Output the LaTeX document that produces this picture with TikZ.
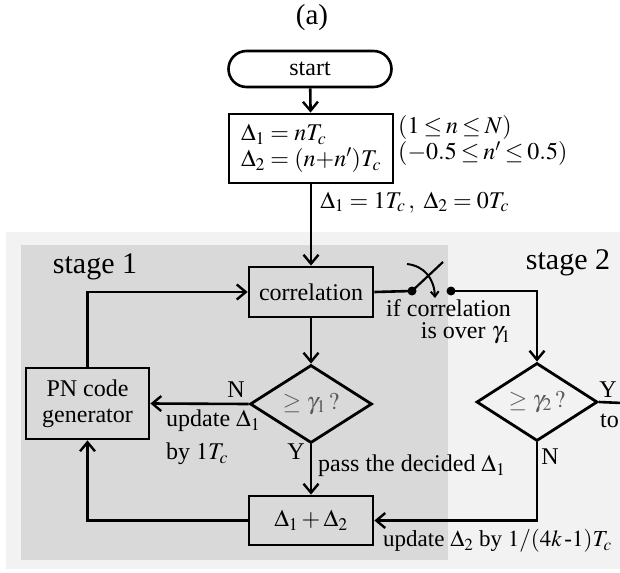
\documentclass[tikz,border=0pt]{standalone}
\usepackage{mathptmx}
\usepackage{fontspec}
\setmainfont{Liberation Serif}
\usetikzlibrary{arrows.meta,shapes.geometric,calc}
\definecolor{bglight}{HTML}{F2F2F2}
\definecolor{bgdark}{HTML}{D9D9D9}
\definecolor{dtext}{HTML}{5A5A5A}
\begin{document}
\begin{tikzpicture}[x=1pt,y=-1pt,
  every node/.style={font=\fontsize{24}{26}\selectfont, inner sep=0pt},
  arr/.style={line width=2.6pt, -{Straight Barb[length=9pt,width=15pt,line width=2.4pt]}},
  box/.style={draw, line width=2.8pt, rectangle, align=center},
  dia/.style={draw, line width=2.8pt, diamond, text=dtext},
  lbl/.style={anchor=west}
]
\useasboundingbox (0,0) rectangle (620,572);
% backgrounds
\fill[bglight] (6,232) rectangle (620,569);
\fill[bgdark] (21,245) rectangle (448,560);

\node[font=\fontsize{29}{30}\selectfont] (title) at (312,18) {(a)};
\node[draw, line width=2.6pt, rounded corners=18pt, fill=white, minimum width=163pt, minimum height=36pt] (start) at (310,69) {start};
\node[box, minimum width=164pt, minimum height=69pt, align=left] (init) at (311,148.5)
  {$\Delta_1=nT_c$\\[0pt]$\Delta_2=(n{+}n')T_c$};
\node[anchor=west, align=left, font=\fontsize{24}{26}\selectfont] (cond) at (398,141)
  {$(1\mkern-1mu\le\mkern-1mu n\mkern-1mu\le\mkern-1mu N)$\\$(-0.5\mkern-1mu\le\mkern-1mu n'\mkern-1mu\le\mkern-1mu 0.5)$};

\node[box, minimum width=124pt, minimum height=50pt] (corr) at (311,292) {correlation};
\node[dia, minimum width=122pt, minimum height=72pt] (d1) at (311,404) {$\ge\gamma_1\,?$};
\node[box, minimum width=123pt, minimum height=71pt, align=center] (pn) at (87.5,403.5) {PN code\\generator};
\node[box, minimum width=124pt, minimum height=49pt] (sum) at (311,520.5) {$\Delta_1+\Delta_2$};
\node[dia, minimum width=121pt, minimum height=70pt] (d2) at (537,402) {$\ge\gamma_2\,?$};

\node[font=\fontsize{30}{32}\selectfont] (s1) at (95,267) {stage 1};
\node[font=\fontsize{30}{32}\selectfont] (s2) at (568,263) {stage 2};

% switch
\coordinate (dot1) at (412,291);
\coordinate (dot2) at (451,291);
\coordinate (lev) at (443,262);
\coordinate (out) at (622,403);

\draw[arr] (start) -- (init);
\draw[arr] (init) -- node[lbl, pos=0.22, xshift=8pt] (lab0) {$\Delta_1=1T_c\,,\ \Delta_2=0T_c$} (corr);
\draw[arr] (corr) -- (d1);
\draw[line width=2.6pt] (corr.east) -- (dot1);
\fill (dot1) circle (4.5pt);
\fill (dot2) circle (4.5pt);
\draw[line width=2.2pt] (dot1) -- (lev);
\draw[line width=2pt, -{Straight Barb[length=5pt,width=8pt]}] (407,264) .. controls (424,266) and (434,278) .. (435,298);
\draw[arr] (dot2) -| (d2.north);
\node[anchor=east, align=right, font=\fontsize{24}{22}\selectfont] (ifc) at (511,322) {if correlation\\is over $\gamma_1$};

\draw[arr] (d1.west) -- (pn.east);
\node (n1) at (236,390) {N};
\node[lbl] (u1) at (166,421) {update $\Delta_1$};
\node[lbl] (u2) at (166,454) {by $1T_c$};

\draw[arr] (pn.north) |- (corr.west);
\draw[arr] (d1.south) -- (sum.north);
\node (y1) at (296,452) {Y};
\node[lbl] (pass) at (318,466) {pass the decided $\Delta_1$};
\draw[arr] (sum.west) -| (pn.south);

\draw[arr] (d2.south) |- (sum.east);
\node (n2) at (550,457) {N};
\node[lbl, font=\fontsize{23}{25}\selectfont] (u3) at (383,541) {update $\Delta_2$ by $1/(4k\,\mbox{-}1)T_c$};

\draw[line width=2.6pt] (d2.east) -- (out);
\node (y2) at (608,390) {Y};
\node[lbl] (to) at (600,421) {to};
\end{tikzpicture}
\end{document}
